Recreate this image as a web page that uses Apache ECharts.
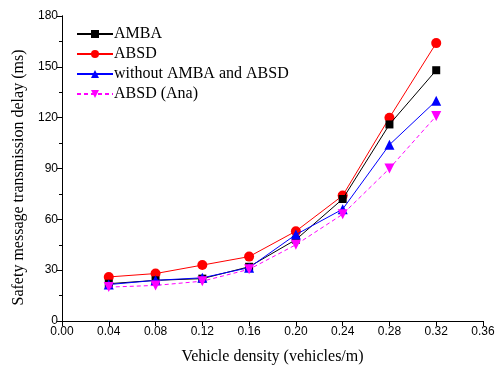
<!DOCTYPE html>
<html>
<head>
<meta charset="utf-8">
<script src="https://cdn.jsdelivr.net/npm/echarts@6/dist/echarts.min.js"></script>
<style>
  html, body { margin: 0; padding: 0; background: #fff; }
  #chart { width: 498px; height: 370px; }
</style>
</head>
<body>
<div id="chart"></div>
<script>
// Vehicle density (vehicles/m)
var densities = [0.04, 0.08, 0.12, 0.16, 0.20, 0.24, 0.28, 0.32];
// Safety message transmission delay (ms)
var ambaDelay = [22, 24, 25, 32, 48, 72, 116, 148];
var absdDelay = [26, 28, 33, 38, 53, 74, 120, 164];
var plainDelay = [21.5, 24, 25.5, 31.5, 51, 66, 104, 130];
var absdAnaDelay = [20, 21, 23.5, 30.5, 45, 63, 90, 121];

var seriesNames = ['AMBA', 'ABSD', 'without AMBA and ABSD', 'ABSD (Ana)'];

function pairs(values) {
  return densities.map(function (d, i) { return [d, values[i]]; });
}

var serif = 'Liberation Serif, Times New Roman, serif';
var sans = 'Liberation Sans, Arial, sans-serif';

var chart = echarts.init(document.getElementById('chart'), null, { renderer: 'canvas' });

var axisLine = { show: true, lineStyle: { color: '#000', width: 1 } };

chart.setOption({
  animation: false,
  backgroundColor: '#fff',
  grid: { left: 62, right: 15, top: 16, bottom: 46, containLabel: false },
  legend: {
    orient: 'vertical',
    left: 76,
    top: 26,
    padding: 0,
    itemWidth: 36,
    itemHeight: 10,
    itemGap: 4,
    textStyle: { fontFamily: serif, fontSize: 16, lineHeight: 16, color: '#000', padding: [0, 0, 0, -4] },
    data: seriesNames
  },
  xAxis: [{
    type: 'value',
    min: 0, max: 0.36, interval: 0.04,
    position: 'bottom',
    name: 'Vehicle density (vehicles/m)',
    nameLocation: 'middle',
    nameGap: 28,
    nameTextStyle: { fontFamily: serif, fontSize: 16, color: '#000' },
    axisLine: axisLine,
    axisTick: { show: true, inside: false, length: 5, lineStyle: { color: '#000' } },
    axisLabel: {
      fontFamily: sans, fontSize: 12, color: '#000', margin: 5,
      formatter: function (v) { return v.toFixed(2); }
    },
    splitLine: { show: false }
  }, {
    type: 'value',
    min: 0, max: 0.36, interval: 0.04,
    position: 'top',
    axisLine: axisLine,
    axisTick: { show: true, inside: true, length: 5, lineStyle: { color: '#000' } },
    axisLabel: { show: false },
    splitLine: { show: false }
  }],
  yAxis: [{
    type: 'value',
    min: 0, max: 180, interval: 30,
    position: 'left',
    name: 'Safety message transmission delay (ms)',
    nameLocation: 'middle',
    nameGap: 34,
    nameTextStyle: { fontFamily: serif, fontSize: 16, color: '#000', padding: [0, 18, 0, 0] },
    axisLine: axisLine,
    axisTick: { show: true, inside: false, length: 5, lineStyle: { color: '#000' } },
    minorTick: { show: true, splitNumber: 2, length: 3, lineStyle: { color: '#000' } },
    axisLabel: { fontFamily: sans, fontSize: 12, color: '#000', margin: 4 },
    splitLine: { show: false }
  }, {
    type: 'value',
    min: 0, max: 180, interval: 30,
    position: 'right',
    axisLine: axisLine,
    axisTick: { show: true, inside: true, length: 5, lineStyle: { color: '#000' } },
    minorTick: { show: true, splitNumber: 2, length: 3, lineStyle: { color: '#000' } },
    axisLabel: { show: false },
    splitLine: { show: false }
  }],
  series: [{
    name: seriesNames[0],
    type: 'line',
    data: pairs(ambaDelay),
    symbol: 'rect', symbolSize: 8,
    itemStyle: { color: '#000' },
    lineStyle: { color: '#000', width: 1 },
    z: 3
  }, {
    name: seriesNames[1],
    type: 'line',
    data: pairs(absdDelay),
    symbol: 'circle', symbolSize: 10,
    itemStyle: { color: '#ff0000' },
    lineStyle: { color: '#ff0000', width: 1 },
    z: 2
  }, {
    name: seriesNames[2],
    type: 'line',
    data: pairs(plainDelay),
    symbol: 'triangle', symbolSize: 10,
    itemStyle: { color: '#0000ff' },
    lineStyle: { color: '#0000ff', width: 1 },
    z: 4
  }, {
    name: seriesNames[3],
    type: 'line',
    data: pairs(absdAnaDelay),
    symbol: 'triangle', symbolSize: 10, symbolRotate: 180,
    itemStyle: { color: '#ff00ff' },
    lineStyle: { color: '#ff00ff', width: 1, type: [4, 3] },
    z: 5
  }]
});
</script>
</body>
</html>
